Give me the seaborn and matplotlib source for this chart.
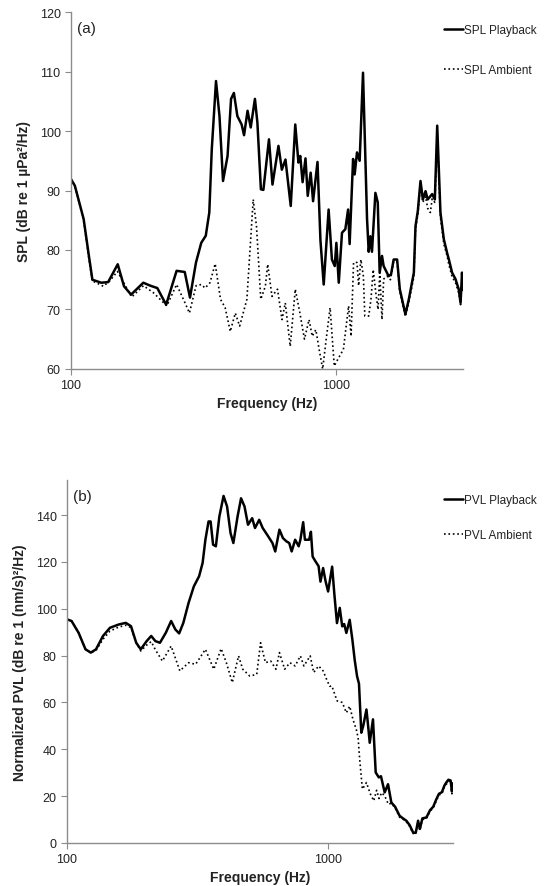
import matplotlib
matplotlib.use("Agg")
import matplotlib.pyplot as plt
import seaborn as sns

sns.set_theme(style="white")
plt.rcParams['font.family'] = ['Liberation Sans', 'DejaVu Sans']

# ---------------------------------------------------------
# (a) SPL spectra
# ---------------------------------------------------------
spl_play_f = [100, 103.4, 111.6, 116.8, 120.4, 130, 138, 150, 158.4, 168.4, 187.3, 199, 211.5,
              228.3, 250, 268.3, 280.8, 295.8, 309.6, 322, 332, 339.2, 351.9, 362.7, 374, 389,
              401, 411, 423.6, 439.5, 448.9, 462.7, 475.6, 493.3, 504, 519.5, 530.8, 557.2,
              574.4, 605, 623, 643, 673, 700, 719.5, 731, 746, 765, 780, 800, 817, 849, 871,
              896, 935, 962, 986, 1000, 1021, 1050, 1081, 1107, 1122, 1156, 1172, 1196, 1224,
              1260, 1305, 1324, 1343, 1362, 1403, 1432, 1456, 1486, 1507, 1574, 1607, 1644,
              1694, 1734, 1820, 1875, 1959, 1987, 2028, 2075, 2118, 2168, 2209, 2296, 2350,
              2399, 2467, 2541, 2614, 2655, 2729, 2812, 2891, 2938, 2975, 3000]
spl_play_db = [91.9, 90.8, 85.2, 79.0, 75.0, 74.5, 74.6, 77.6, 73.9, 72.5, 74.5, 74.0, 73.6,
               70.8, 76.5, 76.3, 72.0, 77.9, 81.2, 82.4, 86.3, 96.9, 108.4, 102.5, 91.6, 95.8,
               105.4, 106.4, 102.5, 101.1, 99.3, 103.4, 100.6, 105.4, 101.4, 90.2, 90.1, 98.6,
               91.0, 97.5, 93.5, 95.2, 87.4, 101.1, 94.7, 95.8, 91.4, 95.4, 89.1, 93.0, 88.2,
               94.8, 81.6, 74.2, 86.8, 78.4, 77.3, 81.2, 74.5, 82.9, 83.5, 86.8, 81.0, 95.3,
               92.7, 96.4, 95.0, 109.8, 85.2, 79.7, 82.3, 79.7, 89.6, 88.0, 76.2, 79.0, 77.3,
               75.6, 75.9, 78.4, 78.4, 73.4, 69.2, 71.7, 76.2, 84.0, 86.6, 91.6, 88.5, 89.9,
               88.5, 89.4, 88.5, 100.9, 86.3, 81.8, 79.5, 78.4, 76.2, 75.1, 73.4, 71.1, 76.2, 73.4]

spl_amb_f = [100, 103.4, 111.6, 116.8, 120.4, 132.4, 140, 149.6, 158, 169.4, 187.5, 204.6,
             229.7, 250, 269, 279.4, 296, 310, 320, 334, 349.4, 366, 381, 398.3, 416, 432, 460,
             486, 500, 519, 540, 551, 572, 600, 624, 642, 670, 700, 728, 758, 789, 811, 837,
             861, 888, 915, 947, 982, 1012, 1063, 1112, 1136, 1161, 1196, 1213, 1237, 1264,
             1280, 1324, 1350, 1377, 1408, 1436, 1457, 1486, 1507, 1552, 1598, 1644, 1694,
             1734, 1820, 1875, 1959, 1987, 2028, 2075, 2118, 2168, 2209, 2260, 2296, 2350,
             2399, 2467, 2541, 2614, 2655, 2729, 2812, 2891, 2938, 2975, 3000]
spl_amb_db = [91.9, 90.8, 85.0, 78.5, 74.8, 73.9, 74.8, 76.4, 74.5, 72.1, 74.0, 72.8, 70.6,
              74.2, 71.1, 69.4, 74.0, 74.2, 73.6, 74.5, 77.7, 71.7, 70.3, 66.3, 69.4, 67.2,
              71.7, 88.5, 84.0, 71.7, 73.9, 77.6, 72.2, 73.4, 68.3, 71.1, 63.8, 73.4, 69.5,
              65.0, 68.3, 65.5, 66.6, 63.3, 60.0, 64.9, 70.3, 60.5, 61.6, 63.3, 70.6, 65.5,
              77.9, 77.9, 74.0, 78.4, 75.6, 68.9, 68.9, 71.7, 76.7, 72.8, 70.0, 76.2, 68.3,
              75.1, 75.6, 75.0, 78.0, 78.0, 73.0, 68.8, 71.2, 75.5, 83.5, 86.0, 91.0, 88.0,
              89.0, 87.0, 86.3, 88.6, 88.0, 99.5, 85.5, 81.0, 79.0, 77.5, 75.5, 74.5, 72.8,
              70.8, 75.0, 72.8]

# ---------------------------------------------------------
# (b) PVL spectra
# ---------------------------------------------------------
pvl_play_f = [100, 104.1, 110.7, 117.7, 123.3, 129.1, 137.3, 146, 157.7, 167.8, 175.7, 184,
              191.5, 201.7, 210, 217.9, 226.8, 238.9, 250.3, 259.7, 268.6, 278.7, 292, 305.8,
              320.2, 330.3, 338.5, 348, 354.4, 362.2, 371.2, 382.8, 397.2, 409.7, 422.5, 433.1,
              449.4, 463.4, 477.8, 492.7, 511.2, 524, 543.7, 560.8, 583.5, 611.1, 626.4, 649.9,
              670.3, 691.3, 708.5, 723.9, 746.5, 770, 781.7, 801.2, 813.6, 844.3, 857.6, 870.8,
              892.5, 917.7, 933, 955, 975, 998, 1034, 1055, 1079, 1106, 1130, 1150, 1172, 1207,
              1236, 1262, 1288, 1310, 1337, 1360, 1399, 1420, 1440, 1482, 1518, 1560, 1590,
              1643, 1692, 1742, 1800, 1874, 1930, 1989, 2050, 2110, 2160, 2205, 2240, 2290,
              2373, 2450, 2520, 2590, 2650, 2720, 2780, 2826, 2880, 2937, 2970, 3000]
pvl_play_db = [95.5, 94.8, 89.8, 82.7, 81.3, 82.7, 88.4, 91.9, 93.3, 94.0, 92.6, 85.5, 82.7,
               86.2, 88.4, 86.2, 85.5, 89.8, 94.8, 91.2, 89.5, 94.0, 102.6, 109.6, 113.9, 119.6,
               129.5, 137.3, 137.3, 127.4, 126.7, 139.4, 148.2, 143.7, 132.3, 128.1, 139.4,
               147.2, 143.7, 135.9, 138.7, 134.5, 138.0, 134.5, 131.6, 128.1, 124.5, 133.8,
               130.2, 128.8, 128.1, 124.5, 129.5, 126.7, 129.5, 137.0, 129.5, 129.5, 132.9,
               122.3, 120.3, 118.2, 111.6, 117.4, 112.0, 107.4, 118.0, 106.0, 93.9, 100.4, 92.5,
               93.5, 89.7, 95.3, 86.8, 78.0, 71.2, 68.0, 47.1, 50.0, 57.0, 50.0, 42.8, 52.8,
               30.1, 28.0, 28.5, 21.6, 25.1, 17.3, 15.5, 11.6, 10.5, 9.5, 7.5, 4.5, 4.3, 9.5,
               6.0, 10.5, 10.9, 14.0, 15.5, 18.7, 21.0, 21.7, 24.5, 25.8, 27.0, 26.7, 22.0, 25.5]

pvl_amb_f = [100, 104.1, 110.7, 117.7, 123.3, 129.1, 137.3, 146, 157.7, 167.8, 175.7, 184,
             191.5, 201.7, 210, 217.9, 231.7, 250.3, 270.3, 292, 310.5, 338.5, 364.4, 388.8,
             407.1, 429, 453.3, 470.4, 500.3, 532.1, 550.4, 574.6, 601.7, 630.3, 649.9, 680.6,
             712.8, 746.5, 781.7, 806.2, 852.2, 878.9, 917.7, 955, 984.7, 1012, 1031, 1080,
             1131, 1172, 1207, 1242, 1279, 1300, 1318, 1350, 1399, 1447, 1492, 1530, 1563,
             1600, 1643, 1698, 1742, 1800, 1874, 1930, 1989, 2050, 2110, 2160, 2205, 2240,
             2290, 2373, 2450, 2520, 2590, 2650, 2720, 2780, 2826, 2880, 2937, 2970, 3000]
pvl_amb_db = [95.5, 94.8, 89.8, 82.7, 81.3, 82.2, 87.0, 90.5, 92.2, 93.0, 92.0, 85.5, 82.0,
              84.5, 86.0, 82.5, 77.7, 84.1, 73.5, 77.0, 76.3, 82.7, 74.2, 83.0, 77.0, 68.5,
              79.9, 74.2, 71.3, 72.0, 85.5, 77.0, 77.7, 74.2, 81.3, 74.2, 77.0, 75.6, 79.9,
              75.6, 79.9, 72.8, 75.6, 73.5, 69.9, 66.9, 67.1, 60.7, 60.0, 55.6, 58.4, 52.8,
              48.5, 45.0, 35.7, 23.0, 25.8, 21.0, 18.0, 22.5, 19.0, 21.5, 20.1, 16.5, 17.0,
              15.0, 11.0, 10.2, 9.0, 7.0, 4.0, 4.8, 8.5, 5.5, 10.0, 10.5, 13.5, 15.0, 18.0,
              20.5, 21.0, 24.0, 25.0, 26.5, 26.0, 21.0, 25.0]

spine_col = '#8c8c8c'
text_col = '#222222'

fig = plt.figure(figsize=(5.47, 8.87), dpi=100)
ax1 = fig.add_axes([0.1298, 0.5829, 0.7166, 0.4024])
ax2 = fig.add_axes([0.1225, 0.0485, 0.7057, 0.4092])

panels = [
    (ax1, spl_play_f, spl_play_db, spl_amb_f, spl_amb_db, "SPL Playback", "SPL Ambient",
     "SPL (dB re 1 µPa²/Hz)", (60, 120), range(60, 121, 10), "(a)", (0.812, 0.972), 2.4),
    (ax2, pvl_play_f, pvl_play_db, pvl_amb_f, pvl_amb_db, "PVL Playback", "PVL Ambient",
     "Normalized PVL (dB re 1 (nm/s)²/Hz)", (0, 155), range(0, 141, 20), "(b)", (0.812, 0.4415), 1.95),
]

for ax, pf, pdb, af, adb, lab_p, lab_a, ylab, ylim, yticks, tag, leg_xy, lsp in panels:
    sns.lineplot(x=pf, y=pdb, ax=ax, color='black', linewidth=1.8, label=lab_p, sort=False)
    sns.lineplot(x=af, y=adb, ax=ax, color='black', linewidth=1.2, linestyle=':',
                 label=lab_a, sort=False)
    ax.set_xscale('log')
    ax.set_xlim(100, 3000)
    ax.set_ylim(*ylim)
    ax.set_xticks([100, 1000])
    ax.set_xticklabels(['100', '1000'])
    ax.xaxis.set_minor_locator(matplotlib.ticker.NullLocator())
    ax.set_yticks(list(yticks))
    ax.tick_params(axis='both', which='major', labelsize=9, colors=spine_col,
                   labelcolor=text_col, direction='out', length=4, width=0.8,
                   left=True, bottom=True)
    for s in ['top', 'right']:
        ax.spines[s].set_visible(False)
    for s in ['left', 'bottom']:
        ax.spines[s].set_color(spine_col)
        ax.spines[s].set_linewidth(1.0)
    ax.set_xlabel("Frequency (Hz)", fontsize=10, fontweight='bold', color=text_col, labelpad=3)
    ax.set_ylabel(ylab, fontsize=10, fontweight='bold', color=text_col, labelpad=6)
    ax.grid(False)
    ax.text(0.015, 0.955, tag, transform=ax.transAxes, fontsize=11, color=text_col,
            ha='left', va='center')
    ax.legend(loc='upper left', bbox_to_anchor=leg_xy, bbox_transform=fig.transFigure,
              frameon=False, fontsize=8.5, handlelength=1.6, handletextpad=0.1,
              borderpad=0, borderaxespad=0, labelspacing=lsp, labelcolor=text_col)

fig.savefig("out.png", dpi=100)
